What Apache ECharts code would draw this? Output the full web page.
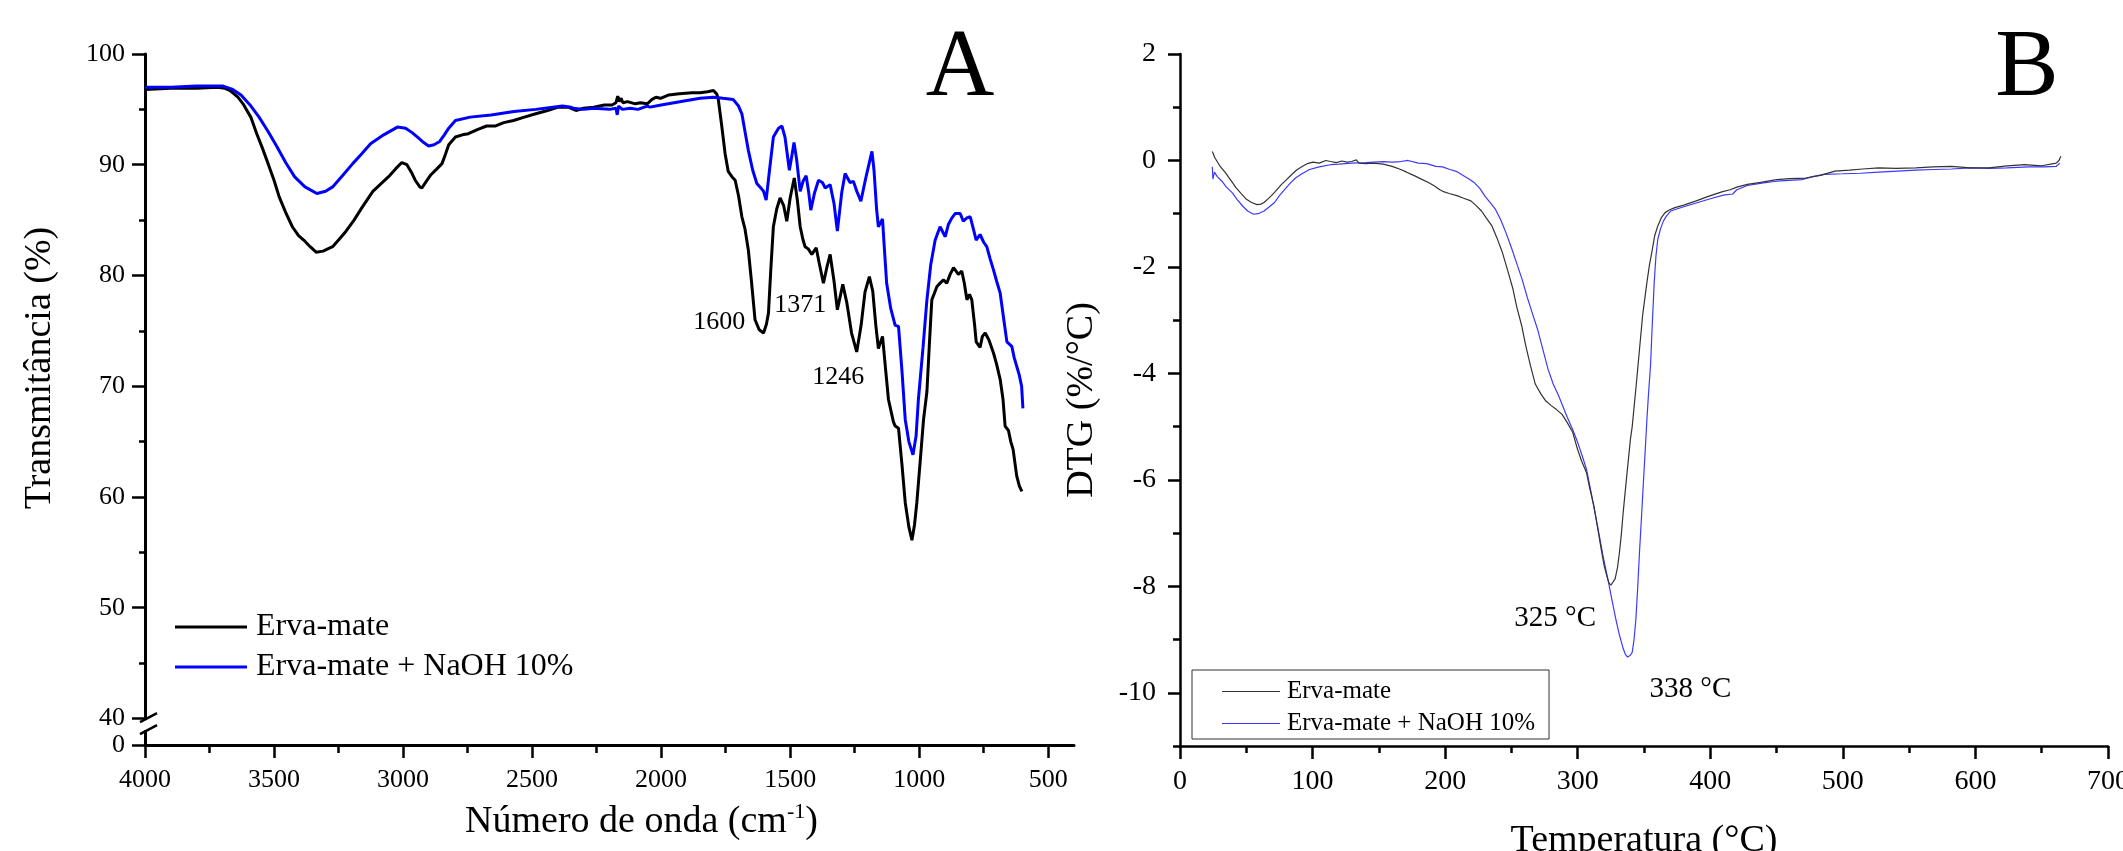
<!DOCTYPE html>
<html>
<head>
<meta charset="utf-8">
<script src="https://cdn.jsdelivr.net/npm/echarts@6/dist/echarts.min.js"></script>
<style>
html, body { margin: 0; padding: 0; background: #fff; }
#chart { width: 2123px; height: 851px; }
</style>
</head>
<body>
<div id="chart"></div>
<script>
// panel A, FTIR: [wavenumber (cm-1), transmittance (%)]
var ftirErva = [[4000,96.8],[3900,96.9],[3800,96.9],[3720,97.0],[3690,96.9],[3670,96.7],[3640,96.1],[3620,95.5],[3590,94.3],[3567,92.8],[3545,91.5],[3523,90.1],[3500,88.6],[3480,87.1],[3455,85.7],[3429,84.4],[3405,83.6],[3385,83.2],[3360,82.6],[3337,82.1],[3310,82.2],[3273,82.6],[3250,83.2],[3221,84.0],[3190,85.0],[3160,86.1],[3117,87.6],[3080,88.4],[3057,88.9],[3030,89.6],[3005,90.2],[2985,90.0],[2965,89.2],[2953,88.6],[2935,88.0],[2927,87.9],[2910,88.5],[2892,89.1],[2870,89.6],[2849,90.1],[2835,91.0],[2823,91.8],[2797,92.5],[2770,92.7],[2747,92.8],[2710,93.2],[2676,93.5],[2641,93.5],[2610,93.8],[2572,94.0],[2530,94.3],[2486,94.6],[2440,94.9],[2399,95.2],[2360,95.2],[2330,94.9],[2300,95.1],[2261,95.2],[2220,95.4],[2190,95.4],[2175,95.6],[2168,96.2],[2162,95.7],[2155,96.0],[2148,95.6],[2130,95.7],[2100,95.5],[2080,95.6],[2054,95.5],[2035,95.9],[2020,96.1],[2002,96.0],[1970,96.3],[1930,96.4],[1880,96.5],[1849,96.5],[1820,96.6],[1797,96.7],[1785,96.4],[1779,96.0],[1765,93.5],[1752,91.0],[1740,89.4],[1725,88.9],[1713,88.6],[1700,87.2],[1687,85.3],[1675,84.2],[1662,82.3],[1650,79.5],[1636,76.0],[1620,75.1],[1603,74.8],[1592,75.6],[1584,76.6],[1575,80.5],[1565,84.4],[1552,86.0],[1539,87.0],[1525,86.3],[1513,84.9],[1500,87.0],[1484,88.8],[1472,86.8],[1461,84.4],[1450,83.2],[1442,82.6],[1430,82.4],[1416,81.9],[1399,82.5],[1388,81.2],[1371,79.3],[1358,80.7],[1345,81.9],[1330,79.5],[1317,76.9],[1296,79.2],[1280,77.5],[1262,74.8],[1242,73.1],[1225,75.5],[1210,78.5],[1193,79.9],[1180,78.6],[1168,75.5],[1158,73.4],[1142,74.5],[1130,71.5],[1119,68.8],[1100,66.8],[1093,66.4],[1080,66.2],[1067,63.0],[1054,59.5],[1040,57.3],[1028,56.1],[1018,57.5],[1009,59.5],[995,63.5],[983,67.0],[970,69.5],[960,74.0],[951,77.8],[931,79.0],[915,79.4],[906,79.6],[893,79.3],[880,80.1],[867,80.7],[848,80.1],[835,80.4],[825,79.3],[815,77.8],[805,78.3],[796,77.8],[785,75.5],[779,74.0],[764,73.5],[755,74.5],[744,74.8],[730,74.2],[712,73.0],[700,72.0],[686,70.6],[675,68.8],[667,66.4],[654,66.0],[645,65.0],[636,64.3],[622,61.9],[612,61.0],[602,60.5]];
var ftirNaoh = [[4000,97.0],[3900,97.0],[3800,97.1],[3697,97.1],[3660,96.8],[3628,96.3],[3593,95.4],[3558,94.3],[3523,93.0],[3488,91.6],[3455,90.2],[3420,88.9],[3380,88.0],[3334,87.4],[3300,87.6],[3273,88.0],[3235,89.0],[3195,90.1],[3160,91.0],[3126,91.9],[3075,92.7],[3022,93.4],[2990,93.3],[2965,92.9],[2944,92.5],[2920,92.0],[2901,91.7],[2880,91.8],[2858,92.1],[2840,92.7],[2823,93.3],[2797,94.0],[2740,94.3],[2659,94.5],[2570,94.8],[2486,95.0],[2420,95.2],[2382,95.3],[2350,95.2],[2340,95.1],[2300,95.0],[2260,95.1],[2200,95.0],[2175,95.1],[2170,94.5],[2165,95.3],[2150,95.0],[2120,95.1],[2090,95.0],[2054,95.3],[2043,95.2],[2000,95.4],[1950,95.6],[1900,95.8],[1849,96.0],[1798,96.1],[1760,96.0],[1721,95.9],[1700,95.3],[1687,94.6],[1675,93.0],[1662,91.3],[1645,89.5],[1629,88.3],[1610,87.8],[1603,87.6],[1593,86.8],[1580,89.5],[1565,92.5],[1545,93.3],[1532,93.5],[1520,92.5],[1503,89.5],[1492,91.0],[1485,92.0],[1475,90.5],[1461,87.6],[1450,88.5],[1438,89.0],[1428,87.5],[1420,85.9],[1405,87.5],[1390,88.6],[1375,88.4],[1364,87.9],[1345,88.2],[1330,86.5],[1317,84.0],[1300,87.5],[1287,89.2],[1268,88.4],[1255,88.5],[1240,87.5],[1226,86.7],[1205,89.0],[1183,91.2],[1175,89.5],[1165,86.0],[1158,84.4],[1142,85.1],[1135,82.5],[1126,79.3],[1110,77.0],[1093,75.5],[1080,75.4],[1067,71.5],[1054,67.0],[1040,65.0],[1024,63.8],[1012,65.5],[1003,68.8],[985,73.5],[970,77.8],[955,81.0],[938,83.2],[919,84.4],[899,83.5],[887,84.6],[873,85.2],[860,85.6],[841,85.6],[829,84.9],[815,85.2],[802,85.3],[790,84.2],[779,83.2],[764,83.7],[750,83.0],[738,82.6],[725,81.5],[712,80.5],[700,79.5],[686,78.4],[672,76.0],[660,74.0],[641,73.6],[632,72.6],[622,71.8],[612,71.0],[603,70.0],[598,68.0]];

// panel B, DTG: [temperature (°C), DTG (%/°C)]
var dtgErva = [[24.4,0.17],[25,0.2],[26.3,0.05],[30,-0.1],[34.2,-0.23],[38,-0.36],[42.2,-0.51],[46,-0.62],[50.1,-0.73],[54,-0.79],[58.1,-0.83],[61,-0.82],[63.4,-0.79],[66,-0.73],[68.6,-0.67],[72,-0.58],[76.6,-0.45],[80,-0.37],[84.5,-0.26],[88,-0.18],[92.4,-0.11],[96,-0.06],[100.3,-0.03],[105,-0.05],[110,0.0],[113.6,-0.02],[118,-0.04],[122,-0.01],[126,-0.03],[129.4,-0.02],[133,0.01],[135,-0.05],[140.1,-0.06],[146,-0.05],[153.3,-0.07],[160,-0.11],[166.5,-0.17],[171,-0.22],[177.1,-0.29],[182,-0.35],[187.7,-0.42],[192,-0.48],[196,-0.55],[198.2,-0.58],[203,-0.62],[208.8,-0.66],[214,-0.71],[219.4,-0.76],[223,-0.84],[227.4,-0.95],[231,-1.08],[235.3,-1.23],[239,-1.45],[243.2,-1.73],[247,-2.05],[251.2,-2.42],[254,-2.75],[257.8,-3.11],[261,-3.5],[264.4,-3.86],[268,-4.2],[272.3,-4.39],[276,-4.52],[280.3,-4.61],[284,-4.68],[288.2,-4.77],[292,-4.92],[296.1,-5.1],[299.8,-5.42],[303,-5.65],[306.6,-5.86],[309,-6.15],[312.2,-6.49],[315,-6.9],[317.7,-7.3],[320,-7.62],[321.9,-7.8],[323.5,-7.93],[325,-7.98],[326.5,-7.95],[328.2,-7.86],[330,-7.65],[331.5,-7.36],[333,-7.0],[334.3,-6.61],[337,-5.92],[339.8,-5.23],[341.1,-5.0],[344,-4.25],[346.6,-3.55],[349,-2.9],[352.2,-2.29],[354,-1.98],[356.3,-1.67],[358,-1.42],[360.4,-1.23],[363,-1.08],[365.9,-0.98],[369,-0.93],[372.8,-0.89],[380,-0.84],[389.4,-0.76],[398,-0.68],[408.7,-0.59],[415,-0.55],[420,-0.5],[428,-0.45],[438,-0.41],[450,-0.36],[460,-0.34],[472,-0.33],[483,-0.28],[494,-0.2],[505,-0.18],[515,-0.16],[527,-0.14],[540,-0.15],[555,-0.14],[568,-0.12],[582,-0.11],[596,-0.14],[610,-0.14],[624,-0.1],[637,-0.08],[650,-0.1],[661,-0.05],[663,0.0],[664.5,0.08]];
var dtgNaoh = [[24.4,-0.12],[24.8,-0.35],[26,-0.22],[28,-0.3],[31.6,-0.39],[35,-0.5],[39.5,-0.61],[43,-0.73],[47.4,-0.86],[51,-0.95],[55.4,-1.01],[59,-1.0],[63.4,-0.95],[67,-0.88],[71.3,-0.79],[75,-0.66],[79.2,-0.54],[83,-0.43],[87.1,-0.33],[92,-0.25],[97.7,-0.17],[105,-0.12],[113.6,-0.08],[120,-0.07],[129.4,-0.05],[140,-0.04],[153.3,-0.02],[160,-0.03],[166.5,-0.02],[172,0.0],[179.8,-0.05],[186,-0.06],[193,-0.11],[198,-0.12],[203.6,-0.17],[209,-0.21],[214.2,-0.29],[218,-0.35],[222.1,-0.42],[226,-0.52],[230,-0.67],[234,-0.79],[238,-0.92],[242,-1.12],[245.9,-1.36],[250,-1.64],[253.8,-1.92],[258,-2.23],[261.7,-2.55],[265.5,-2.85],[269.7,-3.17],[273.5,-3.53],[277.6,-3.92],[281.5,-4.2],[285.6,-4.42],[289,-4.63],[292.2,-4.83],[296.1,-5.05],[300,-5.3],[303,-5.52],[306.6,-5.8],[310,-6.22],[314.9,-6.86],[319,-7.42],[323.2,-7.92],[326,-8.28],[328.7,-8.61],[331.5,-8.92],[334.3,-9.17],[336,-9.28],[337.6,-9.33],[339.5,-9.3],[341.1,-9.24],[342.5,-9.0],[343.9,-8.61],[345.3,-8.0],[346.6,-7.36],[348,-6.75],[349.4,-6.11],[350.8,-5.5],[352.2,-4.86],[353.5,-4.35],[354.9,-3.86],[356.3,-3.05],[357.7,-2.29],[359,-1.8],[360.4,-1.48],[362.5,-1.28],[364.6,-1.14],[367,-1.04],[370.1,-0.95],[380,-0.87],[389.4,-0.8],[400,-0.72],[410,-0.65],[416.9,-0.63],[420,-0.55],[428,-0.47],[440,-0.42],[450,-0.39],[469,-0.36],[478,-0.3],[485.9,-0.26],[500,-0.25],[513.4,-0.24],[527,-0.22],[541,-0.2],[555,-0.18],[568.6,-0.17],[582,-0.16],[596.2,-0.14],[610,-0.15],[623.8,-0.14],[640,-0.12],[652,-0.12],[661,-0.11],[663.7,-0.05]];

var seriesNames = ['Erva-mate', 'Erva-mate + NaOH 10%'];

// ticks
var waveTicks = [4000, 3500, 3000, 2500, 2000, 1500, 1000, 500];
var waveMinor = [3750, 3250, 2750, 2250, 1750, 1250, 750];
var transBottom = 37.6;   // broken axis: bottom of the axis is labelled 0
var transTicks = [transBottom, 40, 50, 60, 70, 80, 90, 100];
var transMinor = [45, 55, 65, 75, 85, 95];
var dtgTicks = [2, 0, -2, -4, -6, -8, -10];
var dtgMinor = [1, -1, -3, -5, -7, -9, -11];

// peak labels
var ftirPeaks = [
  { text: '1600', x: 1775, y: 75.8 },
  { text: '1371', x: 1461, y: 77.35 },
  { text: '1246', x: 1314, y: 70.86 }
];
var dtgPeaks = [
  { text: '325 °C', x: 283, y: -8.61 },
  { text: '338 °C', x: 385, y: -9.94 }
];

var FONT = 'Liberation Serif';
var chart = echarts.init(document.getElementById('chart'), null, { renderer: 'canvas' });

function plain(v) { return String(v); }

function mainAxis(extra) {
  var a = {
    type: 'value',
    splitLine: { show: false },
    axisLine: { show: true, onZero: false, lineStyle: { color: '#000', width: 3 } },
    axisTick: { show: true, inside: false, length: 13, lineStyle: { color: '#000', width: 2.5 } },
    axisLabel: { color: '#000', fontFamily: FONT, fontSize: 26, hideOverlap: false, formatter: plain },
    nameTextStyle: { color: '#000', fontFamily: FONT, fontSize: 38 }
  };
  for (var k in extra) a[k] = extra[k];
  return a;
}
function minorAxis(extra) {
  var a = {
    type: 'value',
    splitLine: { show: false },
    axisLine: { show: false, onZero: false },
    axisLabel: { show: false },
    axisTick: { show: true, inside: false, length: 7, lineStyle: { color: '#000', width: 2.5 } }
  };
  for (var k in extra) a[k] = extra[k];
  return a;
}
function peakMarks(list, size) {
  return {
    silent: true,
    symbol: 'circle',
    symbolSize: 1,
    itemStyle: { color: 'rgba(0,0,0,0)' },
    label: { show: true, position: 'inside', formatter: '{b}', color: '#000', fontFamily: FONT, fontSize: size },
    data: list.map(function (p) { return { name: p.text, coord: [p.x, p.y] }; })
  };
}

var option = {
  animation: false,
  backgroundColor: '#fff',
  textStyle: { fontFamily: FONT },
  grid: [
    { left: 145, top: 54, width: 929, height: 691, outerBoundsMode: 'none', containLabel: false },
    { left: 1180, top: 54, width: 928, height: 692, outerBoundsMode: 'none', containLabel: false }
  ],
  xAxis: [
    mainAxis({
      gridIndex: 0, min: 400, max: 4000, inverse: true, position: 'bottom',
      axisTick: { show: true, length: 13, customValues: waveTicks, lineStyle: { color: '#000', width: 2.5 } },
      axisLabel: { color: '#000', fontFamily: FONT, fontSize: 26, margin: 22, customValues: waveTicks, formatter: plain },
      name: 'Número de onda (cm{sup|-1})', nameLocation: 'middle', nameGap: 56,
      nameTextStyle: {
        color: '#000', fontFamily: FONT, fontSize: 38, padding: [0, 0, 0, 64],
        rich: { sup: { fontSize: 22, fontFamily: FONT, color: '#000', verticalAlign: 'top', padding: [0, 0, 20, 0] } }
      }
    }),
    minorAxis({ gridIndex: 0, min: 400, max: 4000, inverse: true, position: 'bottom',
      axisTick: { show: true, length: 8, customValues: waveMinor, lineStyle: { color: '#000', width: 2.5 } } }),
    mainAxis({
      gridIndex: 1, min: 0, max: 700, interval: 100, position: 'bottom',
      axisLine: { show: true, onZero: false, lineStyle: { color: '#000', width: 2.5 } },
      minorTick: { show: true, splitNumber: 2, length: 7, lineStyle: { color: '#000', width: 2.5 } },
      axisLabel: { color: '#000', fontFamily: FONT, fontSize: 28, margin: 22, formatter: plain },
      name: 'Temperatura (°C)', nameLocation: 'middle', nameGap: 76
    })
  ],
  yAxis: [
    mainAxis({
      gridIndex: 0, min: transBottom, max: 100, position: 'left',
      axisTick: { show: true, length: 13, customValues: transTicks, lineStyle: { color: '#000', width: 2.5 } },
      axisLabel: {
        color: '#000', fontFamily: FONT, fontSize: 26, margin: 20, customValues: transTicks, hideOverlap: false,
        formatter: function (v) { return v === transBottom ? '0' : String(v); }
      },
      name: 'Transmitância (%)', nameLocation: 'middle', nameGap: 86, nameRotate: 90,
      nameTextStyle: { color: '#000', fontFamily: FONT, fontSize: 38, padding: [0, 0, 0, 63] }
    }),
    minorAxis({ gridIndex: 0, min: transBottom, max: 100, position: 'left',
      axisTick: { show: true, length: 6, customValues: transMinor, lineStyle: { color: '#000', width: 2.5 } } }),
    mainAxis({
      gridIndex: 1, min: -11, max: 2, position: 'left',
      axisLine: { show: true, onZero: false, lineStyle: { color: '#000', width: 2.5 } },
      axisTick: { show: true, length: 12, customValues: dtgTicks, lineStyle: { color: '#000', width: 2.5 } },
      axisLabel: { color: '#000', fontFamily: FONT, fontSize: 28, margin: 24, customValues: dtgTicks, formatter: plain },
      name: 'DTG (%/°C)', nameLocation: 'middle', nameGap: 79, nameRotate: 90
    }),
    minorAxis({ gridIndex: 1, min: -11, max: 2, position: 'left',
      axisTick: { show: true, length: 7, customValues: dtgMinor, lineStyle: { color: '#000', width: 2.5 } } })
  ],
  legend: [
    {
      orient: 'vertical', left: 170, top: 606, icon: 'rect', itemWidth: 72, itemHeight: 3, itemGap: 8,
      selectedMode: false,
      textStyle: { color: '#000', fontFamily: FONT, fontSize: 32, padding: [0, 0, 0, 4] },
      data: [
        { name: seriesNames[0], itemStyle: { color: '#000' } },
        { name: seriesNames[1], itemStyle: { color: '#0000ff' } }
      ]
    },
    {
      orient: 'vertical', left: 1192, top: 670, icon: 'rect', itemWidth: 58, itemHeight: 1, itemGap: 7,
      selectedMode: false, borderColor: '#333', borderWidth: 1, borderRadius: 0, padding: [9, 14, 3, 30],
      textStyle: { color: '#000', fontFamily: FONT, fontSize: 25, padding: [0, 0, 0, 2] },
      data: [
        { name: seriesNames[0], itemStyle: { color: '#333' } },
        { name: seriesNames[1], itemStyle: { color: '#3a3aff' } }
      ]
    }
  ],
  series: [
    {
      name: seriesNames[0], type: 'line', xAxisIndex: 0, yAxisIndex: 0, data: ftirErva,
      showSymbol: false, symbol: 'none', lineStyle: { color: '#000', width: 3 }, itemStyle: { color: '#000' },
      markPoint: peakMarks(ftirPeaks, 26)
    },
    {
      name: seriesNames[1], type: 'line', xAxisIndex: 0, yAxisIndex: 0, data: ftirNaoh,
      showSymbol: false, symbol: 'none', lineStyle: { color: '#0000ff', width: 3 }, itemStyle: { color: '#0000ff' }
    },
    {
      name: seriesNames[1], type: 'line', xAxisIndex: 2, yAxisIndex: 2, data: dtgNaoh,
      showSymbol: false, symbol: 'none', lineStyle: { color: '#3a3aff', width: 1.2 }, itemStyle: { color: '#3a3aff' }
    },
    {
      name: seriesNames[0], type: 'line', xAxisIndex: 2, yAxisIndex: 2, data: dtgErva,
      showSymbol: false, symbol: 'none', lineStyle: { color: '#333', width: 1.2 }, itemStyle: { color: '#333' },
      markPoint: peakMarks(dtgPeaks, 29)
    }
  ]
};
chart.setOption(option);

// axis break marks on the left axis of panel A, and the panel letters
var ax = chart.convertToPixel({ xAxisIndex: 0 }, 4000);
var ym = chart.convertToPixel({ yAxisIndex: 0 }, 39.4);
chart.setOption({
  graphic: [
    { type: 'rect', shape: { x: ax - 3, y: ym - 5, width: 6, height: 10 }, style: { fill: '#fff' }, z: 100 },
    { type: 'line', shape: { x1: ax - 5, y1: ym - 3, x2: ax + 12, y2: ym - 12 }, style: { stroke: '#000', lineWidth: 2.5 }, z: 101 },
    { type: 'line', shape: { x1: ax - 5, y1: ym + 9, x2: ax + 12, y2: ym }, style: { stroke: '#000', lineWidth: 2.5 }, z: 101 },
    { type: 'text', style: { x: 960, y: 70, text: 'A', fontFamily: FONT, fontSize: 95, fill: '#000', align: 'center', verticalAlign: 'middle' }, z: 101 },
    { type: 'text', style: { x: 2027, y: 70, text: 'B', fontFamily: FONT, fontSize: 95, fill: '#000', align: 'center', verticalAlign: 'middle' }, z: 101 }
  ]
});
</script>
</body>
</html>
